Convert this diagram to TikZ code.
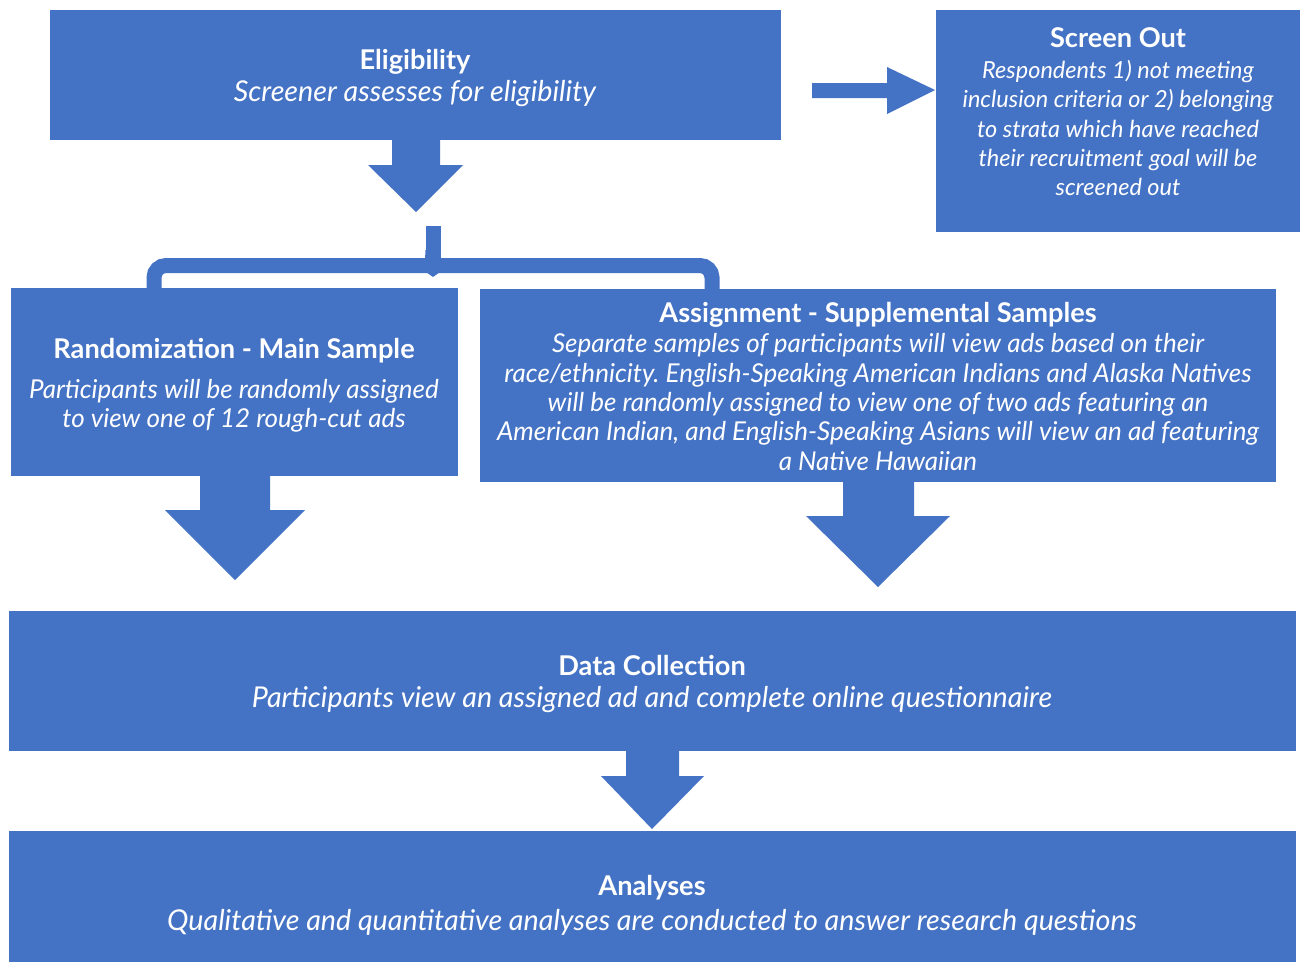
\documentclass[tikz,border=0pt]{standalone}
\usepackage{fontspec}
\setmainfont{Lato}
\definecolor{obl}{HTML}{4472C4}
\frenchspacing
\begin{document}
\begin{tikzpicture}[x=1pt,y=-1pt,
  box/.style={draw=none,fill=obl,inner sep=0pt,outer sep=0pt},
  ttl/.style={text=white,font=\fontsize{27.2}{30}\selectfont\bfseries,inner sep=0pt,align=center},
  bod/.style={text=white,font=\fontsize{28.7}{30}\selectfont\itshape,inner sep=0pt,align=center},
  bodm/.style={text=white,font=\fontsize{26}{29.3}\selectfont\itshape,inner sep=0pt,align=center},
  blk/.style={fill=obl,draw=none}]
\useasboundingbox (0,0) rectangle (1302,962);
% boxes
\path[box] (50,10) rectangle (781,140);
\node[box,minimum width=364pt,minimum height=222pt] (so) at (1118,121) {};
\path[box] (11,288) rectangle (458,476);
\path[box] (480,289) rectangle (1276,482);
\path[box] (9,611) rectangle (1296,751);
\path[box] (9,831) rectangle (1296,962);
% texts
\node[ttl] (eligT) at (415,62) {Eligibility};
\node[bod] (eligB) at (415,94) {Screener assesses for eligibility};
\node[ttl] (soT) at (1118,38) {Screen Out};
\node[bodm,font=\fontsize{23.5}{29.3}\selectfont\itshape] (soB) at (1118,128) {Respondents 1) not meeting\\inclusion criteria or 2) belonging\\to strata which have reached\\their recruitment goal will be\\screened out};
\node[ttl] (rmT) at (234,351) {Randomization - Main Sample};
\node[bodm] (rmB) at (234,405.5) {Participants will be randomly assigned\\to view one of 12 rough-cut ads};
\node[ttl] (asT) at (878,315) {Assignment - Supplemental Samples};
\node[bodm] (asB) at (878,402) {Separate samples of participants will view ads based on their\\race/ethnicity. English-Speaking American Indians and Alaska Natives\\will be randomly assigned to view one of two ads featuring an\\American Indian, and English-Speaking Asians will view an ad featuring\\a Native Hawaiian};
\node[ttl] (dcT) at (652,665) {Data Collection};
\node[bod] (dcB) at (652,700) {Participants view an assigned ad and complete online questionnaire};
\node[ttl] (anT) at (652,888) {Analyses};
\node[bod] (anB) at (652,922) {Qualitative and quantitative analyses are conducted to answer research questions};
% block arrows
\path[blk] (812,83) -- (887,83) -- (887,67) -- (935,90) -- (887,114) -- (887,98) -- (812,98) -- cycle;
\path[blk] (392,140) -- (440,140) -- (440,165) -- (463,165) -- (416,212) -- (368,165) -- (392,165) -- cycle;
\path[blk] (200,476) -- (270,476) -- (270,510) -- (305,510) -- (235,580) -- (165,510) -- (200,510) -- cycle;
\path[blk] (843,482) -- (914,482) -- (914,516) -- (950,516) -- (878,587) -- (806,516) -- (843,516) -- cycle;
\path[blk] (626,751) -- (679,751) -- (679,776) -- (704,776) -- (652,829) -- (601,776) -- (626,776) -- cycle;
% brace
\draw[obl,line width=15pt,rounded corners=12pt] (154,289) -- (154,265.5) -- (712,265.5) -- (712,289);
\draw[obl,line width=15pt] (433,226) -- (433,262);
\path[blk] (425.5,250) .. controls (425,262) .. (420,258) -- (446,258) .. controls (441,262) .. (440.5,250) -- cycle;
\path[blk] (426,272) -- (433,277) -- (440,272) -- cycle;
\end{tikzpicture}
\end{document}
